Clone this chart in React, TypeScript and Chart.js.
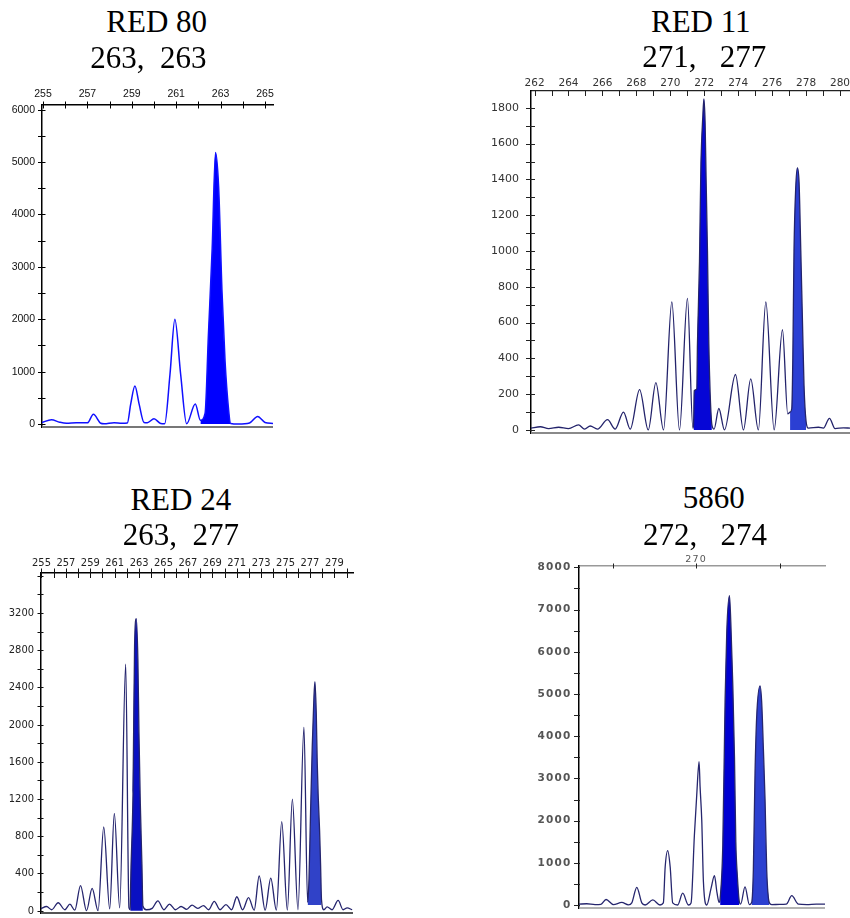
import React, { useEffect, useRef } from "react";
import { Chart, registerables } from "chart.js";

Chart.register(...registerables);

// ---------------- data ----------------
const panelTitles = ["RED 80", "RED 11", "RED 24", "5860"];
const panelGenotypes = ["263,  263", "271,   277", "263,  277", "272,   274"];

// RED 80
const red80Size = [254.95, 255.38, 255.75, 256.06, 256.5, 257.0, 257.27, 257.6, 257.75, 258.2, 258.55, 258.8, 258.95, 259.14, 259.33, 259.55, 259.7, 260.0, 260.3, 260.48, 260.72, 260.94, 261.2, 261.47, 261.86, 262.09, 262.3, 262.45, 262.62, 262.77, 262.91, 263.06, 263.2, 263.36, 263.45, 263.8, 264.3, 264.67, 265.0, 265.36];
const red80Rfu = [30, 80, 35, 15, 25, 22, 185, 15, 5, 25, 15, 20, 380, 725, 380, 30, 25, 100, 10, 5, 950, 2000, 950, 5, 382, 70, 200, 1700, 3350, 5185, 4535, 2560, 1200, 270, 10, 0, 20, 145, 30, 10];
const red80Alleles = [[262.09, 263.45]];
const red80XLabels = [255, 257, 259, 261, 263, 265];
const red80YLabels = [0, 1000, 2000, 3000, 4000, 5000, 6000];

// RED 11
const red11Size = [261.79, 262.34, 262.83, 263.42, 264.0, 264.59, 264.95, 265.28, 265.71, 266.3, 266.75, 267.24, 267.64, 268.19, 268.7, 269.15, 269.6, 270.09, 270.54, 271.01, 271.33, 271.37, 271.41, 271.56, 271.6, 271.72, 271.8, 271.92, 271.98, 272.05, 272.11, 272.19, 272.27, 272.35, 272.45, 272.58, 272.86, 273.19, 273.84, 274.31, 274.74, 275.19, 275.63, 276.12, 276.61, 276.92, 277.06, 277.16, 277.22, 277.29, 277.39, 277.49, 277.59, 277.69, 277.79, 277.88, 278.0, 278.14, 278.73, 279.02, 279.38, 279.71, 280.2, 280.59];
const red11Rfu = [10, 18, 8, 15, 8, 28, 5, 22, 5, 58, 5, 100, 5, 225, 0, 265, 0, 715, 0, 735, 10, 30, 220, 230, 480, 940, 1460, 1760, 1850, 1720, 1400, 1000, 480, 200, 30, 5, 120, 0, 310, 0, 285, 0, 715, 0, 560, 90, 100, 120, 400, 1000, 1350, 1465, 1380, 1000, 600, 250, 50, 10, 15, 10, 65, 8, 12, 10];
const red11Alleles = [[271.37, 272.45], [277.06, 278.0]];
const red11XLabels = [262, 264, 266, 268, 270, 272, 274, 276, 278, 280];
const red11YLabels = [0, 200, 400, 600, 800, 1000, 1200, 1400, 1600, 1800];

// RED 24
const red24Size = [254.93, 255.42, 255.83, 256.37, 256.92, 257.33, 257.73, 258.2, 258.69, 259.15, 259.64, 260.1, 260.59, 260.97, 261.41, 261.9, 262.17, 262.28, 262.31, 262.5, 262.63, 262.77, 262.9, 262.99, 263.1, 263.23, 263.31, 263.59, 264.07, 264.54, 265.03, 265.49, 265.98, 266.44, 266.9, 267.34, 267.8, 268.27, 268.7, 269.16, 269.63, 270.12, 270.58, 271.01, 271.48, 271.97, 272.43, 272.84, 273.33, 273.79, 274.25, 274.69, 275.15, 275.56, 276.02, 276.51, 276.81, 276.92, 277.05, 277.19, 277.33, 277.41, 277.52, 277.6, 277.68, 277.79, 277.87, 277.95, 278.14, 278.41, 278.82, 279.31, 279.72, 280.05, 280.46];
const red24Rfu = [20, 45, 10, 85, 10, 70, 5, 270, 0, 240, 0, 900, 20, 1045, 30, 2650, 30, 10, 300, 1260, 2850, 3140, 2700, 1900, 1150, 500, 50, 10, 25, 105, 10, 70, 10, 45, 15, 60, 25, 55, 10, 100, 10, 65, 10, 150, 10, 140, 5, 373, 5, 350, 5, 957, 5, 1198, 10, 1972, 90, 330, 1047, 1763, 2300, 2462, 2120, 1584, 1226, 867, 509, 115, 10, 40, 10, 110, 10, 30, 10];
const red24Alleles = [[262.28, 263.31], [276.81, 277.95]];
const red24XLabels = [255, 257, 259, 261, 263, 265, 267, 269, 271, 273, 275, 277, 279];
const red24YLabels = [0, 400, 800, 1200, 1600, 2000, 2400, 2800, 3200];

// 5860
const s5860Size = [262.99, 263.45, 263.95, 264.3, 264.61, 265.05, 265.55, 265.95, 266.15, 266.45, 266.75, 266.95, 267.41, 267.84, 268.04, 268.15, 268.3, 268.45, 268.6, 268.9, 269.2, 269.54, 269.7, 269.9, 270.04, 270.18, 270.24, 270.34, 270.44, 270.64, 270.9, 271.1, 271.25, 271.38, 271.44, 271.6, 271.74, 271.84, 272.0, 272.08, 272.2, 272.3, 272.38, 272.47, 272.59, 272.67, 272.93, 273.19, 273.33, 273.43, 273.53, 273.63, 273.83, 273.93, 274.03, 274.13, 274.23, 274.39, 274.53, 275.0, 275.4, 275.73, 276.13, 276.63, 277.2, 277.72];
const s5860Rfu = [20, 30, 10, 15, 130, 10, 60, 5, 50, 420, 50, 0, 120, 0, 50, 900, 1290, 900, 50, 0, 280, 0, 50, 1659, 2607, 3397, 2805, 2015, 553, 0, 400, 695, 300, 60, 150, 1422, 4900, 6500, 7330, 6700, 5200, 3500, 1500, 700, 80, 20, 430, 10, 60, 830, 3120, 4463, 5190, 4800, 3700, 2500, 830, 50, 10, 15, 20, 220, 20, 10, 20, 20];
const s5860Alleles = [[271.44, 272.59], [273.33, 274.39]];
const s5860XLabels = [270];
const s5860YLabels = [0, 1000, 2000, 3000, 4000, 5000, 6000, 7000, 8000];

// ---------------- plugin: crossing tick marks + baseline ----------------
const axisMarks = {
  id: "axisMarks",
  beforeDraw(chart: any, _args: any, opts: any) {
    if (opts.letterSpacing) (chart.ctx as any).letterSpacing = opts.letterSpacing;
  },
  afterDraw(chart: any, _args: any, opts: any) {
    const { ctx, chartArea } = chart;
    if (opts.letterSpacing) (ctx as any).letterSpacing = "0px";
    const xs = chart.scales.x;
    const ys = chart.scales.y;
    ctx.save();
    ctx.strokeStyle = opts.tickColor;
    ctx.lineWidth = 1;
    ctx.beginPath();
    for (const t of xs.ticks) {
      if (t.value < xs.min || t.value > xs.max) continue;
      const px = Math.round(xs.getPixelForValue(t.value)) + 0.5;
      ctx.moveTo(px, chartArea.top - opts.xOut);
      ctx.lineTo(px, chartArea.top + opts.xIn);
    }
    for (const t of ys.ticks) {
      if (t.value < ys.min || t.value > ys.max) continue;
      const py = Math.round(ys.getPixelForValue(t.value)) + 0.5;
      ctx.moveTo(chartArea.left - opts.yOut, py);
      ctx.lineTo(chartArea.left + opts.yIn, py);
    }
    ctx.stroke();
    ctx.strokeStyle = opts.baseColor;
    ctx.lineWidth = opts.baseWidth;
    ctx.beginPath();
    ctx.moveTo(chartArea.left, chartArea.bottom);
    ctx.lineTo(chartArea.right, chartArea.bottom);
    ctx.stroke();
    ctx.restore();
  },
};

type Spec = {
  left: number; top: number; width: number; height: number;
  yW: number; xH: number; padRight: number;
  size: number[]; rfu: number[]; alleles: number[][];
  fillColors: string[]; fillBases: (number | string)[];
  lineColor: string; lineWidth: number;
  xMin: number; xMax: number; xStep: number; xLabels: number[]; xPad: number;
  yMin: number; yMax: number; yStep: number; yLabels: number[]; yPad: number;
  xFont: any; yFont: any; labelColor: string;
  topBorder: string; topBorderW: number; leftBorder: string; leftBorderW: number;
  marks: any;
};

function stepTicks(min: number, max: number, step: number) {
  const out: { value: number }[] = [];
  for (let v = Math.ceil(min / step) * step; v <= max + 1e-9; v += step) {
    out.push({ value: Math.round(v * 1000) / 1000 });
  }
  return out;
}

function buildConfig(s: Spec): any {
  const trace = s.size.map((x, i) => ({ x, y: s.rfu[i] }));
  const fills = s.alleles.map((r, k) => ({
    data: trace.filter((p) => p.x >= r[0] && p.x <= r[1]),
    borderWidth: 0,
    borderColor: "rgba(0,0,0,0)",
    backgroundColor: s.fillColors[k],
    fill: s.fillBases[k] === "origin" ? "origin" : { value: s.fillBases[k] },
    pointRadius: 0,
    cubicInterpolationMode: "monotone",
  }));
  return {
    type: "line",
    data: {
      datasets: [
        {
          data: trace,
          borderColor: s.lineColor,
          borderWidth: s.lineWidth,
          pointRadius: 0,
          fill: false,
          cubicInterpolationMode: "monotone",
        },
        ...fills,
      ],
    },
    options: {
      animation: false,
      responsive: false,
      maintainAspectRatio: false,
      events: [],
      layout: { padding: { left: 0, top: 0, right: s.padRight, bottom: 3 } },
      plugins: {
        legend: { display: false },
        tooltip: { enabled: false },
        title: { display: false },
        axisMarks: s.marks,
      },
      scales: {
        x: {
          type: "linear",
          position: "top",
          bounds: "data",
          min: s.xMin,
          max: s.xMax,
          afterBuildTicks: (sc: any) => {
            sc.ticks = stepTicks(s.xMin, s.xMax, s.xStep);
          },
          afterFit: (sc: any) => {
            sc.height = s.xH;
            sc.paddingLeft = 0;
            sc.paddingRight = 0;
          },
          grid: { display: false, drawTicks: false },
          border: { display: true, color: s.topBorder, width: s.topBorderW },
          ticks: {
            autoSkip: false,
            maxRotation: 0,
            minRotation: 0,
            padding: s.xPad,
            font: s.xFont,
            color: s.labelColor,
            callback: (v: any) => (s.xLabels.includes(Number(v)) ? String(v) : ""),
          },
        },
        y: {
          type: "linear",
          position: "left",
          bounds: "data",
          min: s.yMin,
          max: s.yMax,
          afterBuildTicks: (sc: any) => {
            sc.ticks = stepTicks(s.yMin, s.yMax, s.yStep);
          },
          afterFit: (sc: any) => {
            sc.width = s.yW;
            sc.paddingTop = 0;
            sc.paddingBottom = 0;
          },
          grid: { display: false, drawTicks: false },
          border: { display: true, color: s.leftBorder, width: s.leftBorderW },
          ticks: {
            autoSkip: false,
            padding: s.yPad,
            font: s.yFont,
            color: s.labelColor,
            callback: (v: any) => (s.yLabels.includes(Number(v)) ? String(v) : ""),
          },
        },
      },
    },
    plugins: [axisMarks],
  };
}

const sans = "'Liberation Sans', Arial, sans-serif";
const verd = "'DejaVu Sans', Verdana, sans-serif";
const narrow = "'Liberation Sans Narrow', 'Arial Narrow', 'DejaVu Sans Condensed', sans-serif";

const specs: Spec[] = [
  {
    left: 0, top: 71, width: 280, height: 359, yW: 42, xH: 34, padRight: 7,
    size: red80Size, rfu: red80Rfu, alleles: red80Alleles,
    fillColors: ["#0000ff"], fillBases: ["origin"],
    lineColor: "#1010ff", lineWidth: 1.5,
    xMin: 254.955, xMax: 265.36, xStep: 1, xLabels: red80XLabels, xPad: 5,
    yMin: -57, yMax: 6090, yStep: 500, yLabels: red80YLabels, yPad: 7,
    xFont: { family: sans, size: 10.5 }, yFont: { family: sans, size: 10.5 }, labelColor: "#111",
    topBorder: "#000", topBorderW: 1.5, leftBorder: "#000", leftBorderW: 1.5,
    marks: { tickColor: "#000", xOut: 3.5, xIn: 3.5, yOut: 4, yIn: 3.5, baseColor: "#777", baseWidth: 2 },
  },
  {
    left: 480, top: 60, width: 370, height: 376, yW: 51, xH: 31, padRight: 0,
    size: red11Size, rfu: red11Rfu, alleles: red11Alleles,
    fillColors: ["#0606d6", "#2b3fd3"], fillBases: ["origin", "origin"],
    lineColor: "#23236b", lineWidth: 1.3,
    xMin: 261.79, xMax: 280.59, xStep: 1, xLabels: red11XLabels, xPad: 1.5,
    yMin: -17, yMax: 1894, yStep: 100, yLabels: red11YLabels, yPad: 12,
    xFont: { family: verd, size: 10.5 }, yFont: { family: verd, size: 11 }, labelColor: "#333",
    topBorder: "#222", topBorderW: 1.2, leftBorder: "#000", leftBorderW: 1.5,
    marks: { tickColor: "#222", xOut: 1, xIn: 5, yOut: 5, yIn: 4, baseColor: "#8a8a8a", baseWidth: 2 },
  },
  {
    left: 0, top: 540, width: 360, height: 376, yW: 41, xH: 33, padRight: 7,
    size: red24Size, rfu: red24Rfu, alleles: red24Alleles,
    fillColors: ["#0a10c2", "#3042c8"], fillBases: ["origin", 60],
    lineColor: "#25256e", lineWidth: 1.3,
    xMin: 254.96, xMax: 280.53, xStep: 1, xLabels: red24XLabels, xPad: 3.5,
    yMin: -25, yMax: 3631, yStep: 200, yLabels: red24YLabels, yPad: 7,
    xFont: { family: narrow, size: 11 }, yFont: { family: narrow, size: 11 }, labelColor: "#222",
    topBorder: "#000", topBorderW: 1.5, leftBorder: "#000", leftBorderW: 1.5,
    marks: { tickColor: "#111", xOut: 4.5, xIn: 5, yOut: 3.5, yIn: 2.5, baseColor: "#555", baseWidth: 2 },
  },
  {
    left: 520, top: 530, width: 330, height: 381, yW: 59, xH: 36, padRight: 25,
    size: s5860Size, rfu: s5860Rfu, alleles: s5860Alleles,
    fillColors: ["#0000d2", "#2c40d0"], fillBases: ["origin", "origin"],
    lineColor: "#26266e", lineWidth: 1.3,
    xMin: 262.99, xMax: 277.72, xStep: 5, xLabels: s5860XLabels, xPad: 1.2,
    yMin: -71, yMax: 8033, yStep: 500, yLabels: s5860YLabels, yPad: 7.5,
    xFont: { family: verd, size: 9.5 }, yFont: { family: verd, size: 10.5, weight: "bold" }, labelColor: "#555",
    topBorder: "#999", topBorderW: 1.5, leftBorder: "#000", leftBorderW: 1.5,
    marks: { tickColor: "#222", xOut: 2.5, xIn: 2.5, yOut: 5, yIn: 1, baseColor: "#999", baseWidth: 1.5, letterSpacing: "1.2px" },
  },
];

const titlePos = [
  { t: [156.7, 31.7], g: [148.3, 68.3] },
  { t: [700.8, 31.7], g: [704.2, 66.7] },
  { t: [180.8, 510], g: [180.8, 545] },
  { t: [713.8, 508.3], g: [705, 545] },
];

function Panel({ spec }: { spec: Spec }) {
  const ref = useRef<HTMLCanvasElement>(null);
  useEffect(() => {
    const chart = new Chart(ref.current as HTMLCanvasElement, buildConfig(spec));
    return () => chart.destroy();
  }, [spec]);
  return (
    <canvas
      ref={ref}
      width={spec.width}
      height={spec.height}
      style={{ position: "absolute", left: spec.left, top: spec.top, width: spec.width, height: spec.height }}
    />
  );
}

function Label({ text, cx, baseline }: { text: string; cx: number; baseline: number }) {
  return (
    <div
      style={{
        position: "absolute",
        left: cx,
        top: baseline - 26,
        transform: "translateX(-50%)",
        fontFamily: "'Liberation Serif', 'Times New Roman', serif",
        fontSize: 31,
        lineHeight: "31px",
        whiteSpace: "pre",
        color: "#000",
      }}
    >
      {text}
    </div>
  );
}

export default function App() {
  return (
    <div style={{ position: "absolute", left: 0, top: 0, width: 850, height: 918, background: "#fff", overflow: "hidden" }}>
      {specs.map((s, i) => (
        <Panel key={i} spec={s} />
      ))}
      {titlePos.map((p, i) => (
        <React.Fragment key={i}>
          <Label text={panelTitles[i]} cx={p.t[0]} baseline={p.t[1]} />
          <Label text={panelGenotypes[i]} cx={p.g[0]} baseline={p.g[1]} />
        </React.Fragment>
      ))}
    </div>
  );
}
